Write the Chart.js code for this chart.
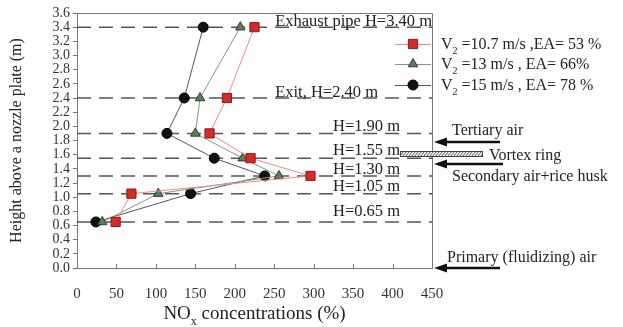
<!DOCTYPE html>
<html>
<head>
<meta charset="utf-8">
<script src="https://cdn.jsdelivr.net/npm/chart.js@4.4.1/dist/chart.umd.min.js"></script>
<style>
  html, body { margin: 0; padding: 0; background: #fff; }
  #wrap { width: 623px; height: 327px; }
</style>
</head>
<body>
<div id="wrap"><canvas id="c" width="623" height="327"></canvas></div>
<script>
/***********************
 * DATA
 ***********************/
const heights = [0.65, 1.05, 1.30, 1.55, 1.90, 2.40, 3.40];
const noxV107 = [49, 69, 296, 220, 168, 190, 225];
const noxV13 = [32, 103, 256, 210, 150, 156, 207];
const noxV15 = [24, 144, 238, 174, 114, 136, 160];

const seriesLabels = [
  ["V", "2", " =10.7 m/s ,EA= 53 %"],
  ["V", "2", " =13 m/s , EA= 66%"],
  ["V", "2", " =15 m/s , EA= 78 %"],
];
const levelLabels = ["H=0.65 m", "H=1.05 m", "H=1.30 m", "H=1.55 m", "H=1.90 m", "Exit, H=2.40 m", "Exhaust pipe H=3.40 m"];
const xTicks = [0, 50, 100, 150, 200, 250, 300, 350, 400, 450];

const SERIF = "'Liberation Serif', 'DejaVu Serif', serif";

/***********************
 * Helpers
 ***********************/
function pts(xs) {
  return xs.map((x, i) => ({ x, y: heights[i] }));
}

function levelLine(h) {
  return {
    data: [{ x: 0, y: h }, { x: 450, y: h }],
    showLine: true,
    borderColor: "#555",
    borderWidth: 1.5,
    borderDash: [14, 8],
    pointRadius: 0,
    order: 5,
  };
}

const styles = [
  { line: "#f08a8a", fill: "#d42a2a", edge: "#8a1a1a", shape: "rect", r: 6.5 },
  { line: "#7f9a80", fill: "#5e7d5f", edge: "#2e3e2e", shape: "triangle", r: 5.5 },
  { line: "#555", fill: "#111", edge: "#000", shape: "circle", r: 5 },
];

function series(xs, s) {
  return {
    data: pts(xs),
    showLine: true,
    borderColor: s.line,
    borderWidth: 1,
    pointStyle: s.shape,
    pointRadius: s.r,
    pointBackgroundColor: s.fill,
    pointBorderColor: s.edge,
    pointBorderWidth: 1,
    order: 1,
  };
}

function drawMarker(ctx, s, x, y) {
  ctx.save();
  ctx.fillStyle = s.fill;
  ctx.strokeStyle = s.edge;
  ctx.lineWidth = 1;
  ctx.beginPath();
  if (s.shape === "rect") {
    const h = s.r * Math.SQRT1_2;
    ctx.rect(x - h, y - h, 2 * h, 2 * h);
  } else if (s.shape === "triangle") {
    ctx.moveTo(x, y - s.r);
    ctx.lineTo(x + s.r * 0.866, y + s.r * 0.5);
    ctx.lineTo(x - s.r * 0.866, y + s.r * 0.5);
    ctx.closePath();
  } else {
    ctx.arc(x, y, s.r, 0, Math.PI * 2);
  }
  ctx.fill();
  ctx.stroke();
  ctx.restore();
}

function subText(ctx, parts, x, y, size) {
  // parts: [main, subscript, rest]
  ctx.font = size + "px " + SERIF;
  ctx.fillText(parts[0], x, y);
  x += ctx.measureText(parts[0]).width;
  ctx.font = Math.round(size * 0.65) + "px " + SERIF;
  ctx.fillText(parts[1], x, y + size * 0.3);
  x += ctx.measureText(parts[1]).width;
  ctx.font = size + "px " + SERIF;
  ctx.fillText(parts[2], x, y);
}

function arrow(ctx, x1, x0, y) {
  ctx.save();
  ctx.strokeStyle = "#111";
  ctx.fillStyle = "#111";
  ctx.lineWidth = 2.5;
  ctx.beginPath();
  ctx.moveTo(x1, y);
  ctx.lineTo(x0 + 10, y);
  ctx.stroke();
  ctx.beginPath();
  ctx.moveTo(x0, y);
  ctx.lineTo(x0 + 13, y - 4.5);
  ctx.lineTo(x0 + 13, y + 4.5);
  ctx.closePath();
  ctx.fill();
  ctx.restore();
}

/***********************
 * Annotations plugin
 ***********************/
const annotations = {
  id: "annotations",
  afterDraw(chart) {
    const { ctx, chartArea: a, scales } = chart;
    const xs = scales.x, ys = scales.y;
    ctx.save();

    // frame (top + right)
    ctx.strokeStyle = "#777";
    ctx.lineWidth = 1;
    ctx.beginPath();
    ctx.moveTo(a.left, a.top + 0.5);
    ctx.lineTo(a.right + 0.5, a.top + 0.5);
    ctx.lineTo(a.right + 0.5, a.bottom);
    ctx.stroke();

    // inner ticks on x axis
    ctx.beginPath();
    xTicks.forEach((v) => {
      const px = Math.round(xs.getPixelForValue(v)) + 0.5;
      ctx.moveTo(px, a.bottom);
      ctx.lineTo(px, a.bottom - 4);
    });
    ctx.stroke();

    ctx.fillStyle = "#222";
    ctx.textBaseline = "alphabetic";

    // level labels
    ctx.font = "16.5px " + SERIF;
    ctx.textAlign = "right";
    ctx.fillText(levelLabels[6], a.right, ys.getPixelForValue(3.40) - 1);
    ctx.fillText(levelLabels[5], 378, ys.getPixelForValue(2.40) - 1);
    ctx.textAlign = "left";
    ctx.fillText(levelLabels[4], 333, 131);
    ctx.fillText(levelLabels[3], 333, 155);
    ctx.fillText(levelLabels[2], 333, 174);
    ctx.fillText(levelLabels[1], 333, 191);
    ctx.fillText(levelLabels[0], 333, 216);

    // right side notes
    ctx.font = "16px " + SERIF;
    ctx.fillText("Tertiary air", 452, 135);
    ctx.fillText("Vortex ring", 489, 160);
    ctx.fillText("Secondary air+rice husk", 452, 181);
    ctx.fillText("Primary (fluidizing) air", 447, 262);

    arrow(ctx, 500, a.right + 2, 142);
    arrow(ctx, 503, a.right + 2, 164);
    arrow(ctx, 500, a.right + 2, ys.getPixelForValue(0));

    // vortex ring hatched bar
    ctx.save();
    ctx.fillStyle = "#fff";
    ctx.fillRect(400, 151, 83, 6);
    ctx.strokeStyle = "#444";
    ctx.lineWidth = 1;
    ctx.strokeRect(400.5, 151.5, 82, 5);
    ctx.beginPath();
    ctx.rect(400.5, 151.5, 82, 5);
    ctx.clip();
    ctx.beginPath();
    for (let x = 396; x < 490; x += 3) {
      ctx.moveTo(x, 157);
      ctx.lineTo(x + 5, 151);
    }
    ctx.stroke();
    ctx.restore();

    // legend
    const legendY = [44, 64, 85];
    styles.forEach((s, i) => {
      ctx.strokeStyle = s.line;
      ctx.lineWidth = 1;
      ctx.beginPath();
      ctx.moveTo(395, legendY[i] + 0.5);
      ctx.lineTo(431, legendY[i] + 0.5);
      ctx.stroke();
      drawMarker(ctx, s, 413, legendY[i]);
      ctx.fillStyle = "#222";
      ctx.textAlign = "left";
      subText(ctx, seriesLabels[i], 441, legendY[i] + 5, 16);
    });

    // axis titles
    ctx.textAlign = "left";
    const t1 = "NO", t2 = "x", t3 = " concentrations (%)";
    ctx.font = "19px " + SERIF;
    const w1 = ctx.measureText(t1).width, w3 = ctx.measureText(t3).width;
    ctx.font = "12px " + SERIF;
    const w2 = ctx.measureText(t2).width;
    let tx = (a.left + a.right) / 2 - (w1 + w2 + w3) / 2;
    subText(ctx, [t1, t2, t3], tx, 319, 19);

    ctx.save();
    ctx.translate(21, (a.top + a.bottom) / 2);
    ctx.rotate(-Math.PI / 2);
    ctx.textAlign = "center";
    ctx.font = "16px " + SERIF;
    ctx.fillText("Height above a nozzle plate (m)", 0, 0);
    ctx.restore();

    ctx.restore();
  },
};

/***********************
 * Chart
 ***********************/
const datasets = heights.map(levelLine).concat([
  series(noxV107, styles[0]),
  series(noxV13, styles[1]),
  series(noxV15, styles[2]),
]);

new Chart(document.getElementById("c"), {
  type: "scatter",
  data: { datasets },
  options: {
    responsive: false,
    animation: false,
    devicePixelRatio: 1,
    layout: { padding: { top: 13, right: 191, left: 0, bottom: 0 } },
    plugins: { legend: { display: false }, tooltip: { enabled: false } },
    scales: {
      x: {
        type: "linear",
        min: 0,
        max: 450,
        afterBuildTicks: (s) => { s.ticks = xTicks.map((v) => ({ value: v })); },
        afterFit: (s) => { s.height = 59; },
        border: { color: "#777" },
        grid: { display: true, drawOnChartArea: false, drawTicks: false },
        ticks: { padding: 17, color: "#333", font: { family: SERIF, size: 15 }, maxRotation: 0 },
      },
      y: {
        type: "linear",
        min: 0,
        max: 3.6,
        afterBuildTicks: (s) => {
          const t = [];
          for (let i = 0; i <= 18; i++) t.push({ value: i / 5 });
          s.ticks = t;
        },
        afterFit: (s) => { s.width = 77; },
        border: { color: "#777" },
        grid: { display: true, drawOnChartArea: false, tickLength: 4, color: "#777" },
        ticks: {
          padding: 3,
          color: "#333",
          font: { family: SERIF, size: 14 },
          autoSkip: false,
          callback: (v) => Number(v).toFixed(1),
        },
      },
    },
  },
  plugins: [annotations],
});
</script>
</body>
</html>
